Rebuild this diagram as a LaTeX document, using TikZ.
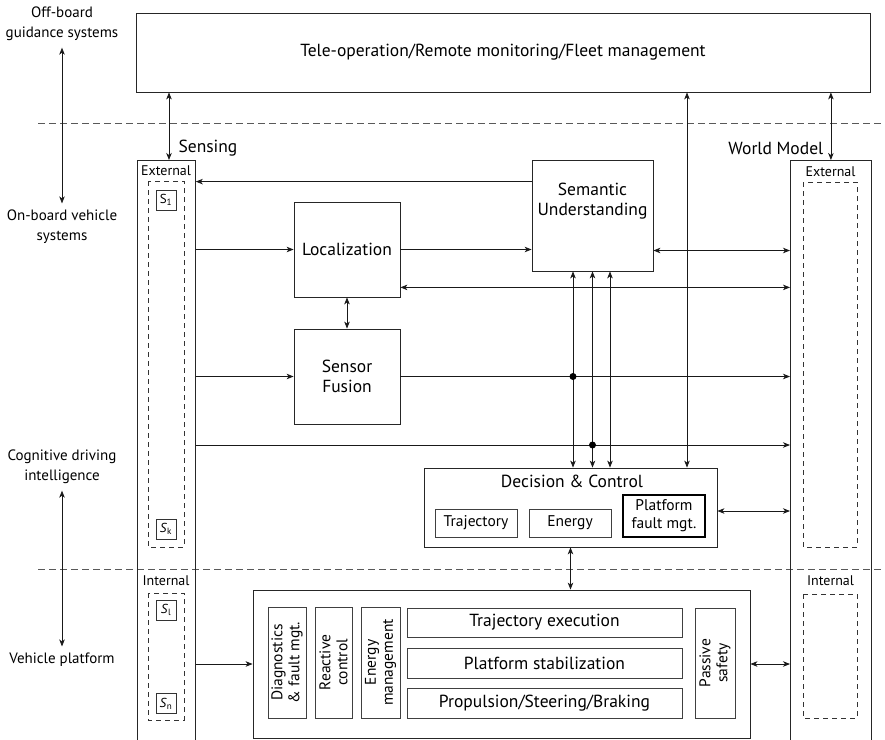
\documentclass[tikz,border=0pt]{standalone}
\usepackage{fontspec}
\setmainfont{PT Sans}
\usetikzlibrary{arrows.meta,calc}
\begin{document}
\begin{tikzpicture}[x=1pt,y=-1pt,
  line width=0.8pt,
  every node/.style={font=\fontsize{17.5}{20}\selectfont},
  >={Stealth[length=7pt,width=5.5pt,inset=2pt]},
  blk/.style={draw=black!85, line width=0.8pt, inner sep=0pt, align=center},
  inbox/.style={draw=black!75, line width=0.8pt, inner sep=0pt, align=center},
  dbox/.style={draw=black!80, dashed, dash pattern=on 5pt off 4pt, line width=0.8pt},
  sbox/.style={draw=black!80, line width=0.8pt, minimum width=20pt, minimum height=20pt, inner sep=0pt, font=\fontsize{13}{14}\selectfont},
  small/.style={font=\fontsize{14}{16}\selectfont},
  sub/.style={font=\fontsize{15.5}{18}\selectfont},
  vert/.style={font=\fontsize{15.5}{17}\selectfont, rotate=90, align=center},
  side/.style={font=\fontsize{15}{20}\selectfont, align=center},
  layer/.style={draw=black!65, dash pattern=on 7pt off 4pt, line width=0.8pt},
  conn/.style={draw=black!90, line width=0.8pt},
  dot/.style={circle, fill=black, inner sep=0pt, minimum size=7pt}
]
\useasboundingbox (0,0) rectangle (885,739);

% layer separators
\draw[layer] (38,123) -- (885,123);
\draw[layer] (38,569) -- (885,569);

% layer names on the left
\node[side] (offb) at (62,24) {Off-board\\guidance systems};
\node[side] (onb) at (62,227) {On-board vehicle\\systems};
\node[side] (cog) at (62,467) {Cognitive driving\\intelligence};
\node[side] (vplat) at (62,660) {Vehicle platform};
\draw[conn,<->] (offb.south) ++(0,3) -- ([yshift=3pt]onb.north);
\draw[conn,<->] (cog.south) ++(0,3) -- ([yshift=3pt]vplat.north);

% off-board system
\node[blk, minimum width=734pt, minimum height=79pt] (tele) at (503,52.5)
  {Tele-operation/Remote monitoring/Fleet management};

% sensing column
\node[blk, minimum width=58pt, minimum height=600pt, anchor=north west] (sens) at (137,160) {};
\node[small] (sext) at (166,171) {External};
\draw[dbox] (148,181) rectangle (184,547);
\node[sbox] (s1) at (166,200) {S\textsubscript{1}};
\node[sbox] (sk) at (166,529) {\textit{S}\textsubscript{k}};
\node[small] (sint) at (166,581) {Internal};
\draw[dbox] (148,593) rectangle (184,720);
\node[sbox] (sl) at (166,610) {\textit{S}\textsubscript{l}};
\node[sbox] (sn) at (166,703.5) {\textit{S}\textsubscript{n}};
\node (senslbl) at (208,148) {Sensing};

% world model column
\node[blk, minimum width=81pt, minimum height=600pt, anchor=north west] (wm) at (790,160) {};
\node[small] (wext) at (830.5,172) {External};
\draw[dbox] (803,182) rectangle (857,547);
\node[small] (wint) at (830.5,581) {Internal};
\draw[dbox] (803,594) rectangle (857,718);
\node[anchor=east] (wmlbl) at (827,148) {World Model};

% perception blocks
\node[blk, minimum width=106pt, minimum height=95pt] (loc) at (347,249.5) {Localization};
\node[blk, minimum width=106pt, minimum height=95pt] (fus) at (347,376.5) {Sensor\\Fusion};
\node[blk, minimum width=121pt, minimum height=111pt] (sem) at (592.5,215.5) {Semantic\\Understanding\\[12pt]};

% decision and control
\node[blk, minimum width=293pt, minimum height=79pt] (dc) at (570.5,507.5) {};
\node (dctitle) at (572,481) {Decision \& Control};
\node[inbox, sub, minimum width=82pt, minimum height=28pt] (traj) at (476,523) {Trajectory};
\node[inbox, sub, minimum width=82pt, minimum height=28pt] (ener) at (570,523) {Energy};
\node[inbox, sub, line width=1.1pt, draw=black, minimum width=82pt, minimum height=42pt] (pfm) at (664,516) {Platform\\fault mgt.};

% vehicle platform
\node[blk, minimum width=497pt, minimum height=148pt] (vp) at (501.5,664) {};
\node[inbox, minimum width=38pt, minimum height=111pt] (diag) at (287,662.5) {};
\node[vert] at (diag.center) {Diagnostics\\\& fault mgt.};
\node[inbox, minimum width=37pt, minimum height=111pt] (react) at (333.5,662.5) {};
\node[vert] at (react.center) {Reactive\\control};
\node[inbox, minimum width=39pt, minimum height=111pt] (emgt) at (380.5,662.5) {};
\node[vert] at (emgt.center) {Energy\\management};
\node[inbox, minimum width=275pt, minimum height=29pt] (texec) at (544.5,622.5) {Trajectory execution};
\node[inbox, minimum width=275pt, minimum height=30pt] (pstab) at (544.5,663) {Platform stabilization};
\node[inbox, minimum width=275pt, minimum height=30pt] (prop) at (544.5,703) {Propulsion/Steering/Braking};
\node[inbox, minimum width=40pt, minimum height=110pt] (pass) at (715,663) {};
\node[vert] at (pass.center) {Passive\\safety};

% helper coordinates
\coordinate (v1) at ([xshift=-19.5pt]sem.south);
\coordinate (v2) at (sem.south);
\coordinate (v3) at ([xshift=17.5pt]sem.south);
\coordinate (remote) at (687,0);
\coordinate (lowbus) at (0,445);

% off-board links
\draw[conn,<->] (tele.south -| 169,0) -- (sens.north -| 169,0);
\draw[conn,<->] (tele.south -| wm.north) -- (wm.north);
\draw[conn,<->] (tele.south -| remote) -- (dc.north -| remote);

% sensing outputs
\draw[conn,->] ([yshift=-22pt]sem.north west) -- ([yshift=-22pt]sem.north west -| sens.east);
\draw[conn,->] (sens.east |- loc.west) -- (loc.west);
\draw[conn,->] (loc.east) -- (loc.east -| sem.west);
\draw[conn,<->] ([yshift=-1pt]loc.east -| sem.east) -- ([yshift=-1pt]loc.east -| wm.west);
\draw[conn,<->] ([yshift=10pt]loc.south east) -- ([yshift=10pt]loc.south east -| wm.west);
\draw[conn,<->] (loc.south) -- (fus.north);
\draw[conn,->] (sens.east |- fus.west) -- (fus.west);
\draw[conn,->] (fus.east) -- (fus.east -| wm.west);
\draw[conn,->] (sens.east |- lowbus) -- (wm.west |- lowbus);

% semantic understanding to decision and control
\draw[conn,<->] (v1) -- (v1 |- dc.north);
\draw[conn,<->] (v2) -- (v2 |- dc.north);
\draw[conn,<->] (v3) -- (v3 |- dc.north);
\node[dot] (j1) at (v1 |- fus.east) {};
\node[dot] (j2) at (v2 |- lowbus) {};

% decision and control links
\draw[conn,<->] ([yshift=-3.5pt]dc.east) -- ([yshift=-3.5pt]dc.east -| wm.west);
\draw[conn,<->] (dc.south) -- (dc.south |- vp.north);

% vehicle platform links
\draw[conn,->] (sens.east |- vp.west) -- (vp.west);
\draw[conn,<->] (vp.east) -- (vp.east -| wm.west);
\end{tikzpicture}
\end{document}
